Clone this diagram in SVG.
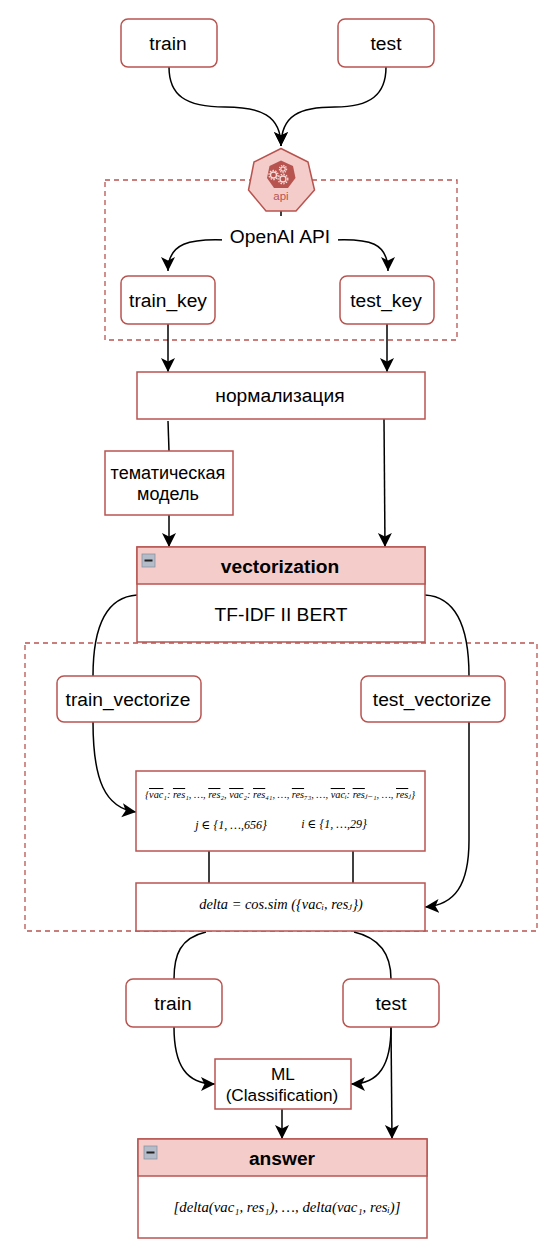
<svg xmlns="http://www.w3.org/2000/svg" width="551" height="1259" viewBox="0 0 551 1259">
<style>
.n{fill:#fff;stroke:#b85450;stroke-width:1.5}
.h{fill:#f4cdcb;stroke:#b85450;stroke-width:1.5}
.d{fill:none;stroke:#b85450;stroke-width:1.3;stroke-dasharray:5 4}
.c{fill:none;stroke:#000;stroke-width:1.5}
.a{marker-end:url(#arr)}
text{font-family:"Liberation Sans",Arial,sans-serif;font-size:19.2px;fill:#000;text-anchor:middle}
.b{font-weight:bold}
.m{font-family:"Liberation Serif","DejaVu Serif",serif;font-style:italic;font-size:12px}
.t{font-size:10.3px}
.w{font-size:14.4px}
.o{text-decoration:overline}
</style>
<defs>
<marker id="arr" markerUnits="userSpaceOnUse" markerWidth="15" markerHeight="15" refX="14" refY="7.5" orient="auto">
<path d="M0 0.5L14 7.5L0 14.5L3.5 7.5Z" fill="#000"/>
</marker>
<g id="minus"><rect x="0" y="0" width="13" height="13" fill="#b4bcc9" stroke="#8a92a0" stroke-width="0.8"/><rect x="2.500" y="5.500" width="8" height="2" fill="#222"/></g>
</defs>
<rect width="551" height="1259" fill="#fff"/>
<g id="groups">
<rect id="api-frame" class="d" x="105" y="180" width="352" height="160"/>
<rect id="vector-frame" class="d" x="25" y="643" width="512" height="288"/>
</g>
<g id="connectors">
<path class="c a" d="M169 67C169 95 185 107 225 107C260 107 281 115 281 146"/>
<path class="c a" d="M386 67C386 95 370 107 335 107C300 107 281 115 281 146"/>
<path class="c a" d="M228 240C190 238 168 243 168 271"/>
<path class="c a" d="M332 240C370 238 388 243 388 271"/>
<path class="c" d="M281 211V216"/>
<path class="c a" d="M168 324V372"/>
<path class="c a" d="M387 324V372"/>
<path class="c" d="M168 421L169 451"/>
<path class="c a" d="M169 515V547"/>
<path class="c a" d="M384 419L385 547"/>
<path class="c a" d="M137 595C105 597 93 630 93 676V722C93 780 105 808 136 812"/>
<path class="c a" d="M425 595C458 597 469 630 469 676V840C469 885 455 905 425 907"/>
<path class="c" d="M209 851V883"/>
<path class="c" d="M353 851V883"/>
<path class="c" d="M206 932C180 938 174 955 174 979"/>
<path class="c" d="M354 932C380 938 391 955 391 979"/>
<path class="c a" d="M174 1027C174 1065 186 1084 215 1084"/>
<path class="c a" d="M391 1027C391 1065 379 1084 351 1084"/>
<path class="c a" d="M391 1027L392 1139"/>
<path class="c a" d="M282 1109V1139"/>
</g>
<g id="train-top"><rect class="n" x="121" y="19" width="96" height="48" rx="7"/><text x="168" y="50">train</text></g>
<g id="test-top"><rect class="n" x="338" y="19" width="96" height="48" rx="7"/><text x="386" y="50">test</text></g>
<g id="api">
<path d="M281 148.500L308 162L314.500 190L296 211H266L248.500 190L254 162Z" fill="#f4cdcb" stroke="#b85450" stroke-width="1.500" stroke-linejoin="round"/>
<path d="M281 160.500L293 166L295.500 178L288 188H274L267 178L269.500 166Z" fill="#b85450"/>
<g fill="none" stroke="#f8dcda">
<circle cx="273.500" cy="175" r="3" stroke-width="1.300"/><circle cx="273.500" cy="175" r="4.500" stroke-width="1.300" stroke-dasharray="1.500 1.300"/>
<circle cx="283" cy="169" r="2.200" stroke-width="1.200"/><circle cx="283" cy="169" r="3.600" stroke-width="1.200" stroke-dasharray="1.300 1.100"/>
<circle cx="283" cy="179" r="3" stroke-width="1.300"/><circle cx="283" cy="179" r="4.800" stroke-width="1.300" stroke-dasharray="1.500 1.300"/>
</g>
<text x="281" y="200" style="font-size:11.500px;fill:#b85450">api</text>
</g>
<g id="openai"><rect x="222" y="226" width="116" height="21" fill="#fff"/><text x="280" y="243">OpenAI API</text></g>
<g id="train-key"><rect class="n" x="121" y="276" width="94" height="48" rx="7"/><text x="168" y="307">train_key</text></g>
<g id="test-key"><rect class="n" x="340" y="276" width="94" height="48" rx="7"/><text x="386" y="307">test_key</text></g>
<g id="norm"><rect class="n" x="137" y="372" width="288" height="47"/><text x="280" y="402">нормализация</text></g>
<g id="topic"><rect class="n" x="105" y="451" width="128" height="64"/><text x="168" y="479" style="font-size:18px">тематическая</text><text x="168" y="500" style="font-size:18px">модель</text></g>
<g id="vectorization">
<rect class="n" x="137" y="547" width="288" height="95"/>
<rect class="h" x="137" y="547" width="288" height="37"/>
<use href="#minus" x="142" y="554"/>
<text class="b" x="280" y="573">vectorization</text>
<text x="281" y="621">TF-IDF II BERT</text>
</g>
<g id="train-vec"><rect class="n" x="57" y="676" width="144" height="46" rx="7"/><text x="128" y="706">train_vectorize</text></g>
<g id="test-vec"><rect class="n" x="361" y="676" width="144" height="46" rx="7"/><text x="432" y="706">test_vectorize</text></g>
<g id="formula">
<rect class="n" x="136" y="771" width="289" height="80"/>
<text class="m t" x="280" y="798">{<tspan class="o">vac</tspan>₁: <tspan class="o">res</tspan>₁, …, <tspan class="o">res</tspan>₂, <tspan class="o">vac</tspan>₂: <tspan class="o">res</tspan>₄₁, …, <tspan class="o">res</tspan>₇₃, …, <tspan class="o">vac</tspan>ᵢ: <tspan class="o">res</tspan>ⱼ₋₁, …, <tspan class="o">res</tspan>ⱼ}</text>
<text class="m" x="231" y="829">j ∈ {1, …,656}</text>
<text class="m" x="334" y="828">i ∈ {1, …,29}</text>
</g>
<g id="delta"><rect class="n" x="136" y="883" width="289" height="48"/><text class="m w" x="281" y="909">delta  = cos.sim ({vacᵢ, resⱼ})</text></g>
<g id="train-bot"><rect class="n" x="126" y="979" width="96" height="48" rx="7"/><text x="173" y="1010">train</text></g>
<g id="test-bot"><rect class="n" x="343" y="979" width="96" height="48" rx="7"/><text x="391" y="1010">test</text></g>
<g id="ml"><rect class="n" x="215" y="1059" width="136" height="50"/><text x="283" y="1080" style="font-size:17.200px">ML</text><text x="282" y="1101" style="font-size:17.200px">(Classification)</text></g>
<g id="answer">
<rect class="n" x="138" y="1139" width="289" height="99"/>
<rect class="h" x="138" y="1139" width="289" height="37"/>
<use href="#minus" x="144" y="1146"/>
<text class="b" x="282" y="1165">answer</text>
<text class="m" style="font-size:14.8px" x="287" y="1212">[delta(vac₁, res₁), …, delta(vac₁, resᵢ)]</text>
</g>
</svg>
